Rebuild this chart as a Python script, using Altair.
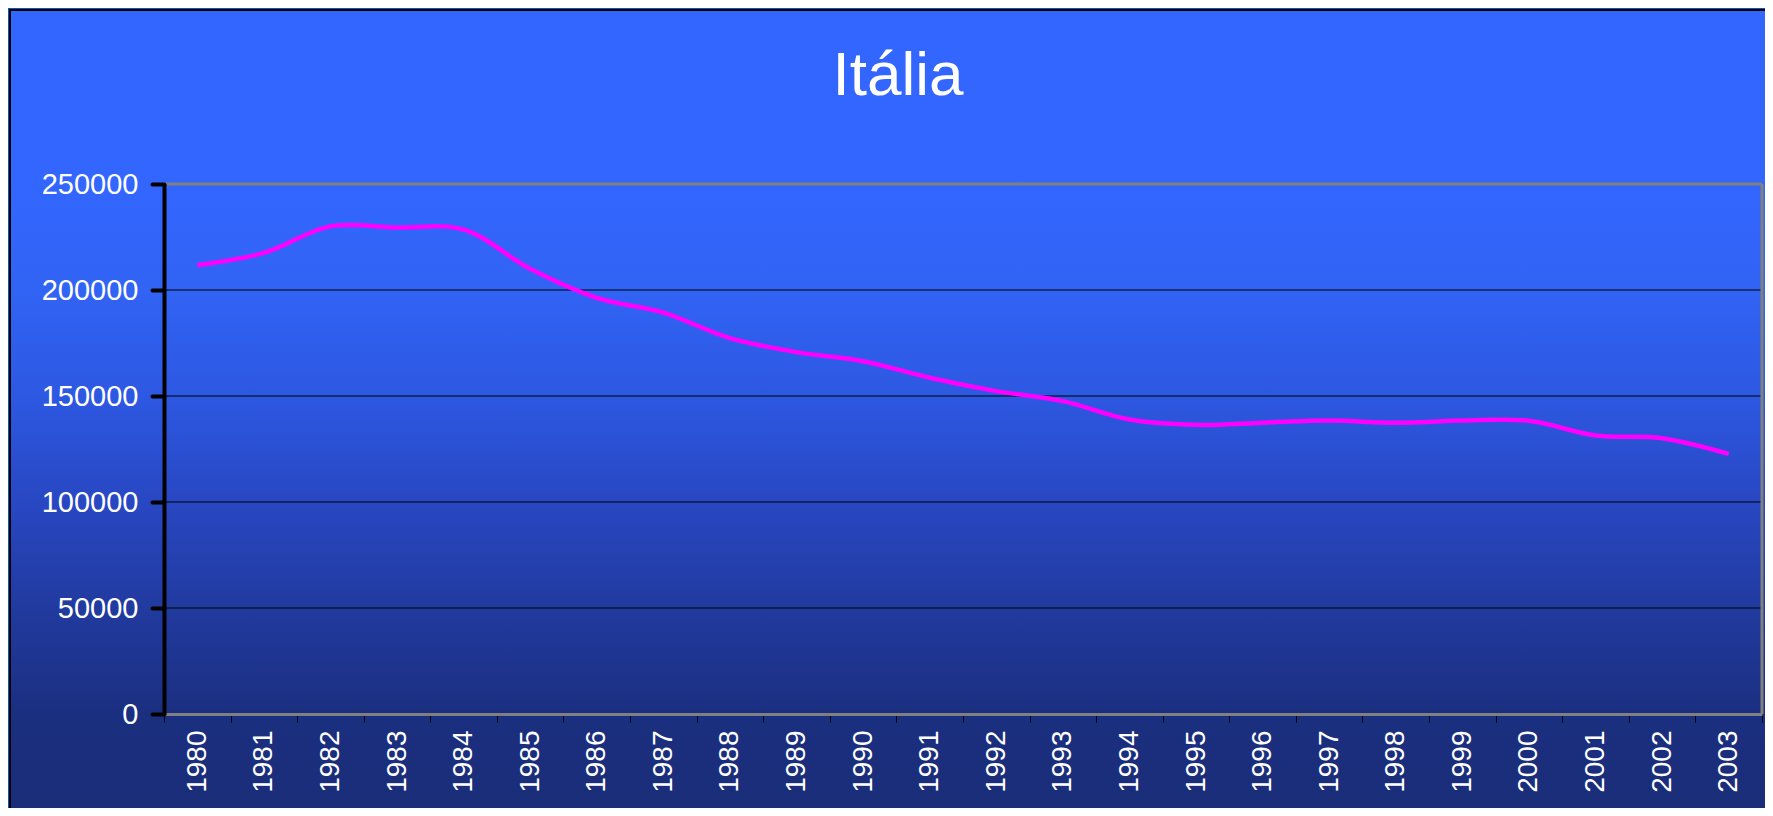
import altair as alt
import pandas as pd

# ---- data ----
years = ["1980", "1981", "1982", "1983", "1984", "1985", "1986", "1987",
         "1988", "1989", "1990", "1991", "1992", "1993", "1994", "1995",
         "1996", "1997", "1998", "1999", "2000", "2001", "2002", "2003"]
values = [211700, 217500, 230000, 229500, 228500, 210000, 196300, 189300,
          177300, 170700, 166400, 158600, 152300, 147600, 138900, 136400,
          137400, 138400, 137400, 138400, 138300, 131400, 130100, 122700]
grid_values = [50000, 100000, 150000, 200000]
top_value = [250000]
y_ticks = [0, 50000, 100000, 150000, 200000, 250000]
title_text = "Itália"

W, H = 1598, 530

df = pd.DataFrame({"year": years, "value": values})

xscale = alt.Scale(type="band", paddingInner=0, paddingOuter=0, domain=years)
yscale = alt.Scale(domain=[0, 250000], nice=False, zero=True)

xaxis = alt.Axis(
    title=None, labelAngle=-90, labelColor="white", labelFont="Liberation Sans",
    labelFontSize=28, labelPadding=8, tickColor="black", tickWidth=1, tickSize=8,
    domainColor="#808080", domainWidth=3, grid=False, tickBand="extent", zindex=1,
)
yaxis = alt.Axis(
    title=None, values=y_ticks, format="d", labelColor="white",
    labelFont="Liberation Sans", labelFontSize=29, labelPadding=14,
    tickColor="black", tickWidth=4, tickSize=12, tickCap="round",
    domainColor="black", domainWidth=4, grid=False, zindex=1,
)

y_enc = alt.Y("value:Q", scale=yscale, axis=yaxis, title=None)

panel_gradient = alt.Gradient(
    gradient="linear",
    stops=[
        alt.GradientStop(color="#3366FF", offset=0.0),
        alt.GradientStop(color="#3366FF", offset=0.21),
        alt.GradientStop(color="#3163F4", offset=0.35),
        alt.GradientStop(color="#2D58E2", offset=0.48),
        alt.GradientStop(color="#2846C0", offset=0.62),
        alt.GradientStop(color="#213A9E", offset=0.745),
        alt.GradientStop(color="#1B2F80", offset=0.875),
        alt.GradientStop(color="#1A2D78", offset=1.0),
    ],
    x1=0, x2=0, y1=0, y2=1,
)

# decorative slide panel behind the chart
panel = alt.Chart(pd.DataFrame({"k": [0]})).mark_rect(
    fill=panel_gradient, stroke="black", strokeWidth=2
).encode(
    x=alt.value(-154), x2=alt.value(W + 40),
    y=alt.value(-174), y2=alt.value(H + 102),
)

grid = alt.Chart(pd.DataFrame({"value": grid_values})).mark_rule(
    color="black", strokeWidth=1.2
).encode(y=y_enc)

top_border = alt.Chart(pd.DataFrame({"value": top_value})).mark_rule(
    color="#808080", strokeWidth=3
).encode(y=y_enc)

right_border = alt.Chart(pd.DataFrame({"year": [years[-1]]})).mark_rule(
    color="#808080", strokeWidth=3
).encode(x=alt.X("year:O", scale=xscale, axis=xaxis, bandPosition=1, title=None))

line = alt.Chart(df).mark_line(
    color="#FF00FF", strokeWidth=4.5, interpolate="catmull-rom"
).encode(
    x=alt.X("year:O", scale=xscale, axis=xaxis, bandPosition=0.5, title=None),
    y=y_enc,
)

chart = alt.layer(panel, grid, top_border, right_border, line).properties(
    width=W, height=H,
    title=alt.TitleParams(
        text=title_text, color="white", font="Liberation Sans", fontSize=62,
        fontWeight="normal", anchor="middle", dx=-65, offset=-99,
    ),
    background="#005CB8",
    padding={"left": 156, "top": 176, "right": 3, "bottom": 94},
    autosize=alt.AutoSizeParams(type="none"),
).configure_view(stroke="transparent")

chart.save("out.html", embed_options={"renderer": "svg", "actions": False})
